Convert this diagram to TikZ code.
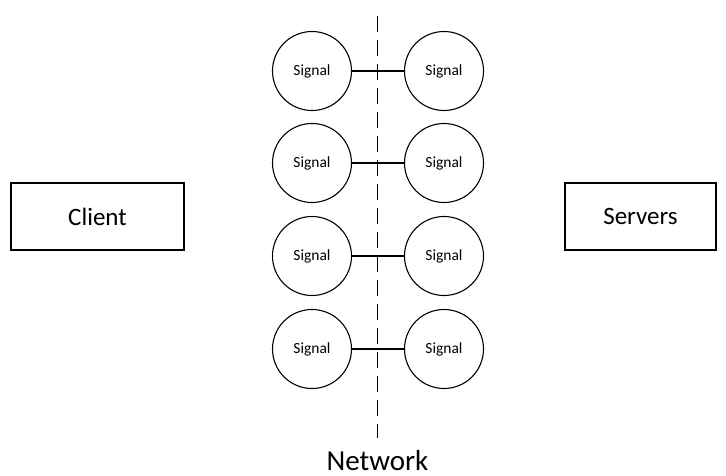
\documentclass[tikz,border=0pt]{standalone}
\usepackage{fontspec}
\setmainfont{Carlito}
\begin{document}
\begin{tikzpicture}[x=1pt,y=-1pt,
  sig/.style={circle,draw,line width=1.1pt,minimum size=79pt,inner sep=0pt,font=\fontsize{15.5}{18}\selectfont},
  endbox/.style={rectangle,draw,line width=1.1pt,minimum width=173pt,minimum height=67pt,inner sep=0pt,font=\fontsize{25}{30}\selectfont},
  link/.style={line width=1.1pt}]
\useasboundingbox (0,0) rectangle (726,476);
\fill[white] (0,0) rectangle (726,476);
\node[endbox] (client) at (97.5,216.5) {Client};
\node[endbox,minimum width=151pt] (servers) at (640.5,216.5) {Servers};
\coordinate (ntop) at (377.5,16);
\coordinate (nbot) at (377.5,438);
\draw[line width=1.8pt,dash pattern=on 16pt off 8pt] (ntop) -- (nbot);
\foreach \i/\y in {1/71,2/163,3/256,4/349}{
  \node[sig] (l\i) at (312,\y) {Signal};
  \node[sig] (r\i) at (444,\y) {Signal};
  \draw[link] (l\i) -- (r\i);
}
\node[font=\fontsize{29}{34}\selectfont,anchor=base,inner sep=0pt] (net) at (377.5,470) {Network};
\end{tikzpicture}
\end{document}
